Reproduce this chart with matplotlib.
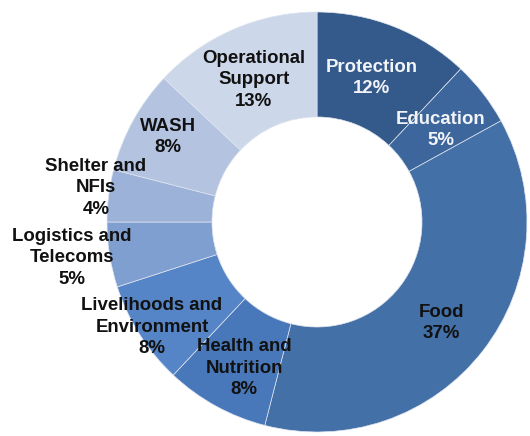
import matplotlib
matplotlib.use('Agg')
import matplotlib.pyplot as plt

# Share of funding by sector (%), clockwise from 12 o'clock
sectors = ['Protection', 'Education', 'Food', 'Health and\nNutrition',
           'Livelihoods and\nEnvironment', 'Logistics and\nTelecoms',
           'Shelter and\nNFIs', 'WASH', 'Operational\nSupport']
shares = [12, 5, 37, 8, 8, 5, 4, 8, 13]

colors = ['#335a8a', '#3d669c', '#4470a8', '#4878ba', '#5585c6',
          '#7f9fd0', '#9db2d8', '#b3c3e0', '#cdd7ea']
text_colors = ['#f2f4f8', '#f2f4f8', '#111111', '#111111', '#111111',
               '#111111', '#111111', '#111111', '#111111']

# label centres in pixels of the 530x436 picture
label_px = [(372, 78), (441, 130), (441, 323), (244, 368), (152, 327),
            (72, 258), (96, 188), (168, 137), (254, 80)]

W, H = 530, 436
cx, cy, R = 317, 222, 210  # pie centre and radius in pixels

fig = plt.figure(figsize=(W / 100, H / 100), dpi=100)
ax = fig.add_axes([0, 0, 1, 1])

ax.pie(shares, colors=colors, startangle=90, counterclock=False, radius=1,
       wedgeprops=dict(width=0.5, edgecolor='#dfe5ef', linewidth=0.5))

for name, val, (px, py), tc in zip(sectors, shares, label_px, text_colors):
    ax.text((px - cx) / R, (cy - py) / R, f'{name}\n{val}%',
            ha='center', va='center', multialignment='center',
            fontsize=13.4, fontweight='bold', color=tc,
            family=['Liberation Sans', 'DejaVu Sans'], linespacing=1.35)

ax.set_xlim(-cx / R, (W - cx) / R)
ax.set_ylim((cy - H) / R, cy / R)
ax.set_aspect('auto')
ax.axis('off')

fig.savefig('out.png', dpi=100, facecolor='white')
